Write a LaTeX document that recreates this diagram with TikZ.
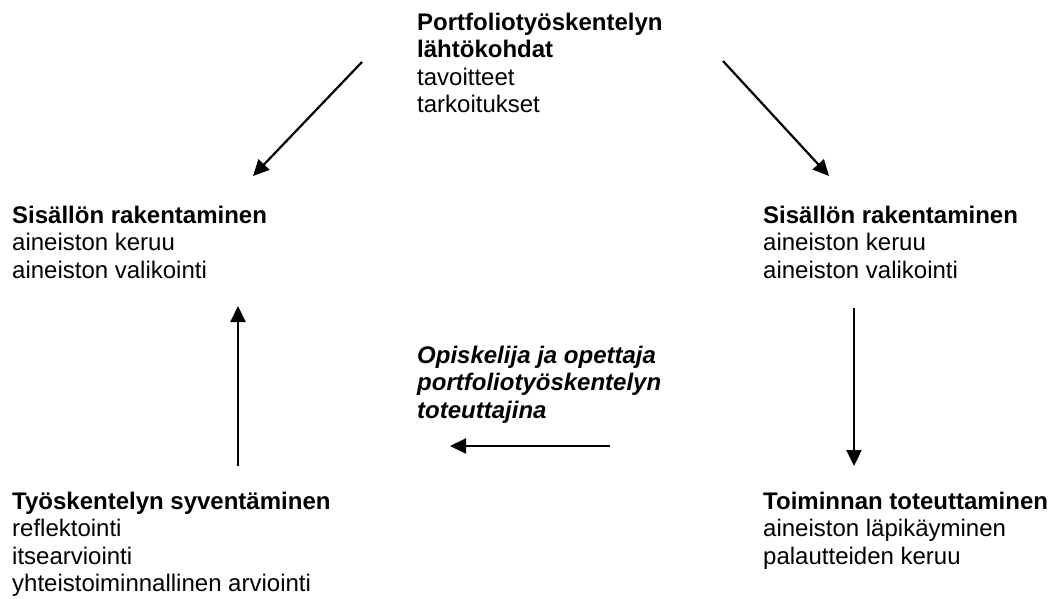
\documentclass[tikz,border=0pt]{standalone}
\usepackage{fontspec}
\setmainfont{Liberation Sans}
\usetikzlibrary{arrows.meta}
\begin{document}
\begin{tikzpicture}[x=1pt,y=-1pt,
  txt/.style={anchor=base west,inner sep=0pt,align=left,font=\fontsize{24}{27.6}\selectfont},
  arr/.style={line width=2.2pt,-{Triangle[length=16pt,width=15pt]}}]
\useasboundingbox (0,0) rectangle (1051,598);
% base anchor = baseline of the last line
\node[txt] (top) at (417,112.8) {\textbf{Portfoliotyöskentelyn}\\\textbf{lähtökohdat}\\tavoitteet\\tarkoitukset};
\node[txt] (left) at (12,278.2) {\textbf{Sisällön rakentaminen}\\aineiston keruu\\aineiston valikointi};
\node[txt] (right) at (763,278.2) {\textbf{Sisällön rakentaminen}\\aineiston keruu\\aineiston valikointi};
\node[txt] (br) at (763,564.2) {\textbf{Toiminnan toteuttaminen}\\aineiston läpikäyminen\\palautteiden keruu};
\node[txt] (bl) at (12,591.8) {\textbf{Työskentelyn syventäminen}\\reflektointi\\itsearviointi\\yhteistoiminnallinen arviointi};
\node[txt] (mid) at (417,418.2) {\textbf{\textit{Opiskelija ja opettaja}}\\\textbf{\textit{portfoliotyöskentelyn}}\\\textbf{\textit{toteuttajina}}};
\coordinate (a1s) at (362,62);
\coordinate (a1e) at (253,176);
\coordinate (a2s) at (723,61);
\coordinate (a2e) at (829,176);
\coordinate (a3s) at (854,308);
\coordinate (a3e) at (854,466);
\coordinate (a4s) at (610,446);
\coordinate (a4e) at (450,446);
\coordinate (a5s) at (238,466);
\coordinate (a5e) at (238,306);
\draw[arr] (a1s) -- (a1e);
\draw[arr] (a2s) -- (a2e);
\draw[arr] (a3s) -- (a3e);
\draw[arr] (a4s) -- (a4e);
\draw[arr] (a5s) -- (a5e);
\end{tikzpicture}
\end{document}
